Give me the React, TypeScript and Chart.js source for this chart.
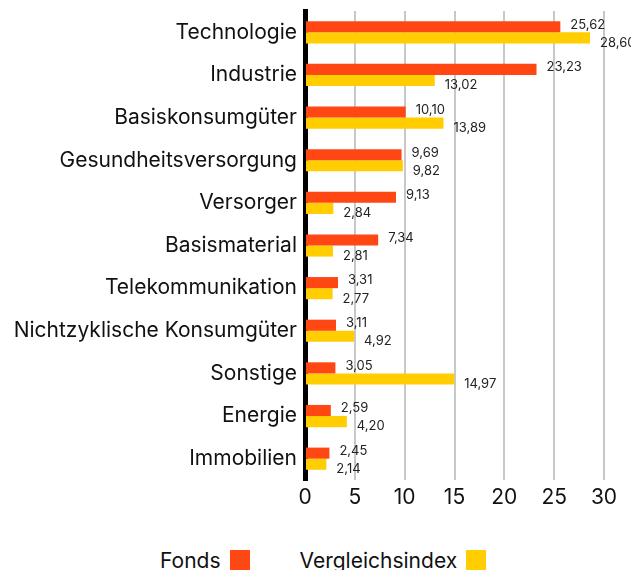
import React, { useEffect, useRef } from "react";
import { Chart, registerables } from "chart.js";

Chart.register(...registerables);

const categories = [
  "Technologie",
  "Industrie",
  "Basiskonsumgüter",
  "Gesundheitsversorgung",
  "Versorger",
  "Basismaterial",
  "Telekommunikation",
  "Nichtzyklische Konsumgüter",
  "Sonstige",
  "Energie",
  "Immobilien",
];
const fondsValues = [25.62, 23.23, 10.1, 9.69, 9.13, 7.34, 3.31, 3.11, 3.05, 2.59, 2.45];
const indexValues = [28.6, 13.02, 13.89, 9.82, 2.84, 2.81, 2.77, 4.92, 14.97, 4.2, 2.14];
const seriesNames = ["Fonds", "Vergleichsindex"];
const seriesColors = ["#ff4713", "#ffcd00"];
const xTickValues = [0, 5, 10, 15, 20, 25, 30];

const FONT = "Inter, 'Noto Sans', sans-serif";

const fmt = (v: number) => v.toFixed(2).replace(".", ",");

const valueLabels = {
  id: "valueLabels",
  afterDatasetsDraw(chart: any) {
    const ctx = chart.ctx;
    ctx.save();
    ctx.font = `13px ${FONT}`;
    ctx.fillStyle = "#222";
    ctx.textAlign = "left";
    ctx.textBaseline = "middle";
    chart.data.datasets.forEach((ds: any, i: number) => {
      const meta = chart.getDatasetMeta(i);
      meta.data.forEach((el: any, j: number) => {
        ctx.fillText(fmt(ds.data[j]), el.x + 10, el.y + (i === 0 ? -2 : 5));
      });
    });
    ctx.restore();
  },
};

export default function App() {
  const ref = useRef<HTMLCanvasElement | null>(null);
  useEffect(() => {
    if (!ref.current) return;
    const chart = new Chart(ref.current, {
      type: "bar",
      data: {
        labels: categories,
        datasets: [
          { label: seriesNames[0], data: fondsValues, backgroundColor: seriesColors[0] },
          { label: seriesNames[1], data: indexValues, backgroundColor: seriesColors[1] },
        ],
      },
      options: {
        indexAxis: "y",
        animation: false,
        responsive: false,
        maintainAspectRatio: false,
        layout: { padding: { top: 3, right: 35, left: 0, bottom: 0 } },
        datasets: { bar: { categoryPercentage: 0.52, barPercentage: 1.0 } },
        plugins: { legend: { display: false }, tooltip: { enabled: false } },
        scales: {
          x: {
            min: 0,
            max: 30,
            afterBuildTicks: (s: any) => {
              s.ticks = xTickValues.map((v) => ({ value: v }));
            },
            grid: { color: "#c8c8c8", lineWidth: 2, drawTicks: false },
            border: { display: false },
            ticks: {
              color: "#111",
              font: { family: FONT, size: 21 },
              padding: 5,
            },
            afterFit: (s: any) => {
              s.height = 30;
              s.paddingLeft = 0;
              s.paddingRight = 0;
            },
          },
          y: {
            grid: { display: false, drawTicks: false },
            border: { display: true, color: "#000", width: 5 },
            ticks: {
              color: "#111",
              font: { family: FONT, size: 21 },
              padding: 8,
            },
            afterFit: (s: any) => {
              s.width = 297;
              s.paddingTop = 0;
              s.paddingBottom = 0;
            },
          },
        },
      },
      plugins: [valueLabels],
    });
    return () => chart.destroy();
  }, []);

  const legendItem = (name: string, color: string, ml: number) => (
    <div style={{ display: "flex", alignItems: "center", marginLeft: ml }}>
      <span style={{ fontFamily: FONT, fontSize: 21, color: "#111" }}>{name}</span>
      <span
        style={{
          display: "inline-block",
          width: 20,
          height: 20,
          background: color,
          marginLeft: 9,
        }}
      />
    </div>
  );

  return (
    <div style={{ width: 631 }}>
      <canvas ref={ref} width={631} height={502} style={{ display: "block" }} />
      <div style={{ display: "flex", alignItems: "center", marginTop: 40, height: 20 }}>
        {legendItem(seriesNames[0], seriesColors[0], 152)}
        {legendItem(seriesNames[1], seriesColors[1], 50)}
      </div>
    </div>
  );
}
